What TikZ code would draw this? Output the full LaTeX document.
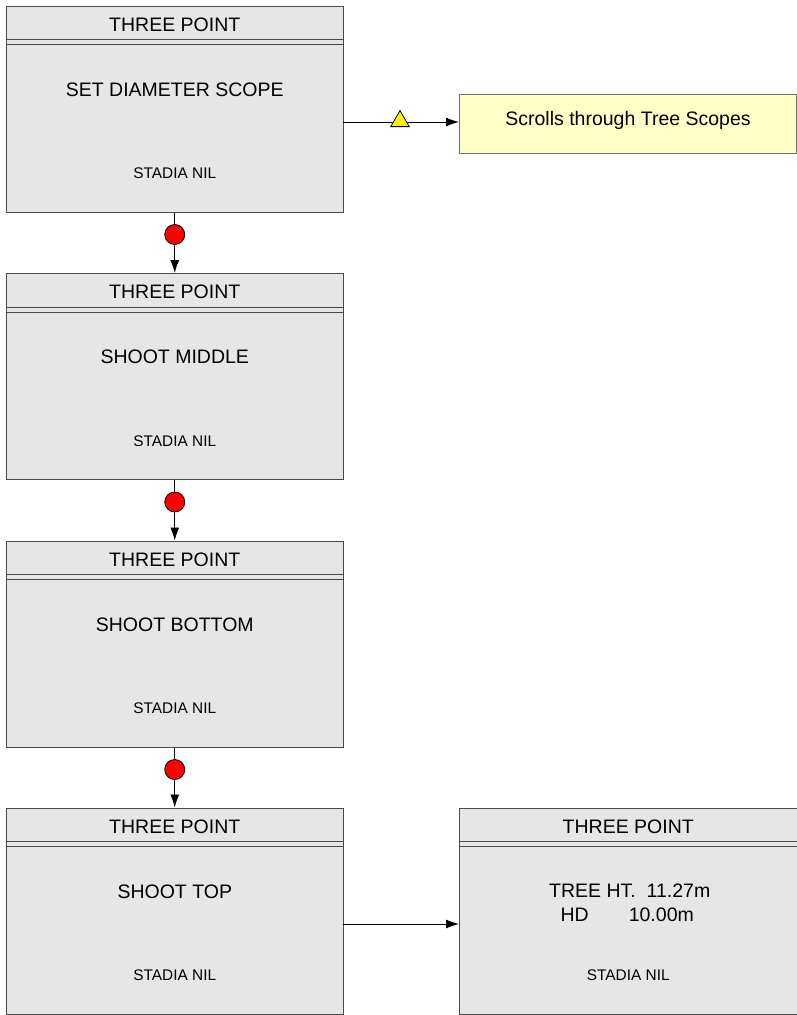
\documentclass[tikz,border=0pt]{standalone}
\usepackage{fontspec}
\setmainfont{Liberation Sans}
\usetikzlibrary{arrows.meta,shapes.geometric}
\definecolor{boxfill}{HTML}{E6E6E6}
\definecolor{boxedge}{HTML}{4A4A4A}
\definecolor{notefill}{HTML}{FFFFC8}
\definecolor{noteedge}{HTML}{707070}
\tikzset{
  screen/.style={draw=boxedge, line width=1pt, fill=boxfill, rectangle,
    minimum width=337.5pt, minimum height=206pt, anchor=north west, inner sep=0pt},
  note/.style={draw=noteedge, line width=1pt, fill=notefill, rectangle,
    minimum width=337pt, minimum height=59pt, anchor=north west, inner sep=0pt,
    font=\fontsize{19.5}{23}\selectfont},
  bigtxt/.style={font=\fontsize{19.5}{23}\selectfont, inner sep=0pt},
  smalltxt/.style={font=\fontsize{15.4}{18}\selectfont, inner sep=0pt},
  link/.style={draw=black, line width=0.9pt, -{Latex[length=13pt,width=9pt]}},
  dot/.style={circle, draw=black, line width=0.8pt, fill=red, minimum size=20pt, inner sep=0pt},
  tri/.style={isosceles triangle, isosceles triangle apex angle=60, shape border rotate=90,
    draw=black, line width=0.8pt, fill=yellow, minimum height=16pt, inner sep=0pt}
}
\newcommand{\screenhead}[1]{%
  \node[bigtxt] at ([yshift=-19pt]#1.north) {THREE POINT};
  \draw[boxedge, line width=1pt] ([yshift=-34pt]#1.north west) -- ([yshift=-34pt]#1.north east);
  \draw[boxedge, line width=1pt] ([yshift=-39pt]#1.north west) -- ([yshift=-39pt]#1.north east);
  \node[smalltxt] at ([yshift=-168pt]#1.north) {STADIA NIL};
}
\begin{document}
\begin{tikzpicture}[x=1pt, y=-1pt]
\useasboundingbox (0,0) rectangle (797,1015);

% left column of screens
\node[screen] (s1) at (5.5,5.5) {};
\node[screen] (s2) at (5.5,273) {};
\node[screen] (s3) at (5.5,540.5) {};
\node[screen] (s4) at (5.5,807.5) {};
% result screen
\node[screen] (s5) at (459,807.5) {};
% note
\node[note] (n1) at (459,94) {};
\node[bigtxt] at (n1.center) [yshift=4pt] {Scrolls through Tree Scopes};

\screenhead{s1}
\screenhead{s2}
\screenhead{s3}
\screenhead{s4}
\screenhead{s5}

\node[bigtxt] at ([yshift=-84pt]s1.north) {SET DIAMETER SCOPE};
\node[bigtxt] at ([yshift=-84pt]s2.north) {SHOOT MIDDLE};
\node[bigtxt] at ([yshift=-84pt]s3.north) {SHOOT BOTTOM};
\node[bigtxt] at ([yshift=-84pt]s4.north) {SHOOT TOP};
\node[bigtxt] at ([yshift=-83pt,xshift=1.5pt]s5.north) {TREE HT.\ \ 11.27m};
\node[bigtxt] at ([yshift=-107pt,xshift=-1pt]s5.north) {HD\hspace{40pt}10.00m};

% connectors
\draw[link] (s1.south) -- (s2.north);
\draw[link] (s2.south) -- (s3.north);
\draw[link] (s3.south) -- (s4.north);
\coordinate (a1) at (343,122);
\coordinate (b1) at (459,122);
\draw[link] (a1) -- (b1);
\coordinate (a4) at (343,924);
\coordinate (b5) at (459,924);
\draw[link] (a4) -- (b5);

% markers on connectors
\node[dot] (d1) at ([yshift=-22pt]s1.south) {};
\node[dot] (d2) at ([yshift=-22pt]s2.south) {};
\node[dot] (d3) at ([yshift=-22pt]s3.south) {};
\node[tri, anchor=south] (t1) at (400,127) {};
\end{tikzpicture}
\end{document}
